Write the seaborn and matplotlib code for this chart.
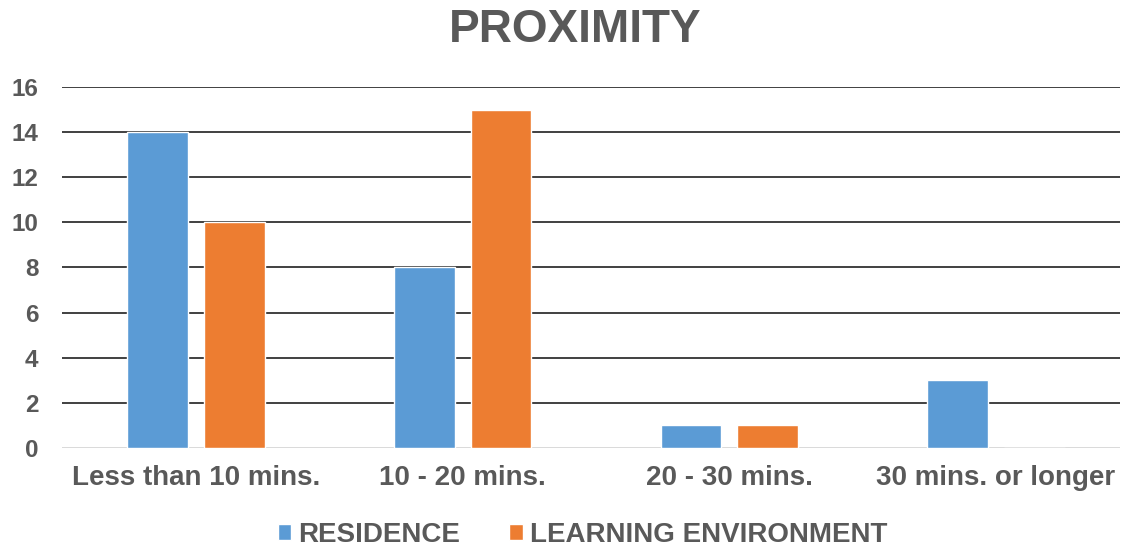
import matplotlib
matplotlib.use("Agg")
import matplotlib.pyplot as plt
import seaborn as sns
import pandas as pd

categories = ["Less than 10 mins.", "10 - 20 mins.", "20 - 30 mins.", "30 mins. or longer"]
residence = [14, 8, 1, 3]
learning_env = [10, 15, 1, 0]
series_names = ["RESIDENCE", "LEARNING ENVIRONMENT"]
colors = ["#5B9BD5", "#ED7D31"]
yticks = [0, 2, 4, 6, 8, 10, 12, 14, 16]

df = pd.DataFrame({
    "category": categories * 2,
    "series": [series_names[0]] * 4 + [series_names[1]] * 4,
    "value": residence + learning_env,
})

sns.set_style("white")
plt.rcParams["font.family"] = ["Liberation Sans", "DejaVu Sans"]
text_color = "#595959"

fig = plt.figure(figsize=(11.22, 5.5), dpi=100)
ax = fig.add_axes([0.0553, 0.1855, 0.9427, 0.6563])

sns.barplot(data=df, x="category", y="value", hue="series", order=categories,
            hue_order=series_names, palette=colors, width=0.575, gap=0.21,
            saturation=1, ax=ax, legend=True)

ax.set_ylim(0, 16)
ax.set_xlim(-0.5025, 3.464)
ax.set_yticks(yticks)
ax.set_axisbelow(True)
for y in yticks[1:]:
    ax.axhline(y, color="#404040", lw=1.4, zorder=0)
ax.axhline(0, color="#D9D9D9", lw=1.4, zorder=0.5)
for s in ax.spines.values():
    s.set_visible(False)
ax.tick_params(axis="both", length=0, colors=text_color)
ax.tick_params(axis="x", pad=12)
ax.tick_params(axis="y", pad=17)
for lbl in ax.get_xticklabels():
    lbl.set_fontsize(20)
    lbl.set_fontweight("bold")
for lbl in ax.get_yticklabels():
    lbl.set_fontsize(17.5)
    lbl.set_fontweight("bold")
ax.set_xlabel("")
ax.set_ylabel("")

fig.suptitle("PROXIMITY", x=0.513, y=0.985, fontsize=33, fontweight="bold",
             color=text_color, va="top")

handles, labels = ax.get_legend_handles_labels()
ax.legend_.remove()
leg = fig.legend(handles, labels, loc="center", bbox_to_anchor=(0.519, 0.027),
                 ncol=2, frameon=False, handlelength=0.5, handleheight=0.5,
                 handletextpad=0.25, columnspacing=1.75,
                 prop={"size": 20, "weight": "bold"})
for t in leg.get_texts():
    t.set_color(text_color)

fig.savefig("out.png", dpi=100)
